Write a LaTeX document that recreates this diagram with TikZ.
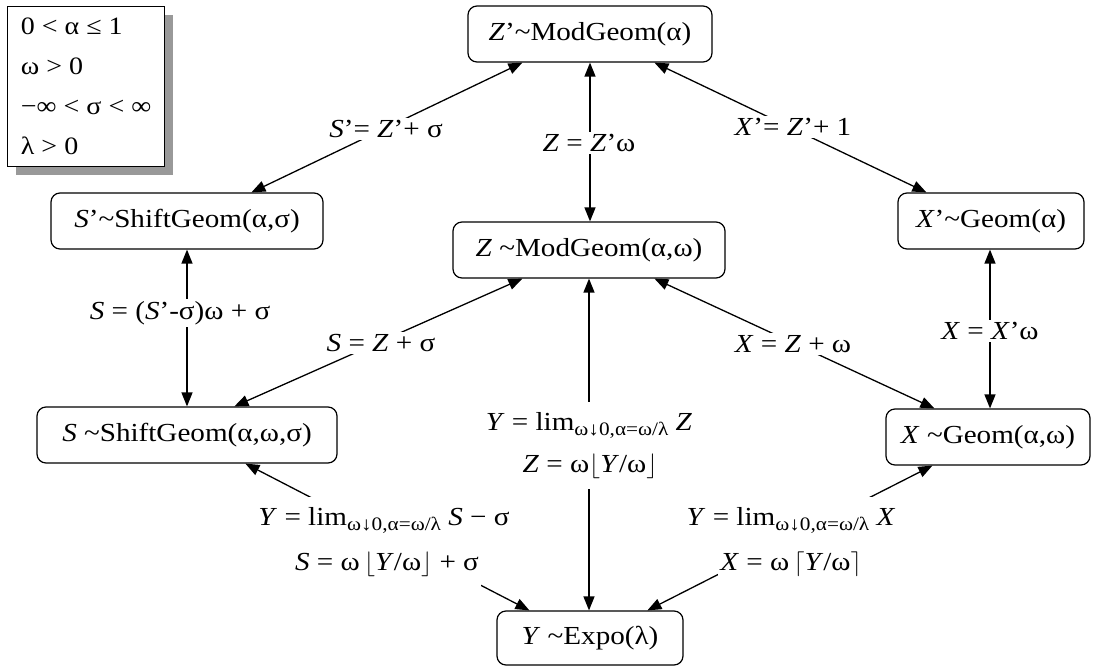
\documentclass[tikz,border=0pt]{standalone}
\usepackage{fontspec}
\setmainfont{Liberation Serif}[FakeStretch=1.12]
\usetikzlibrary{arrows.meta,shadows}
\newcommand\lsub[1]{\raisebox{-0.5ex}{\fontsize{19}{19}\selectfont #1}}
\newcommand\tld{\textasciitilde}
\begin{document}
\begin{tikzpicture}[x=1pt,y=1pt,
  box/.style={draw, line width=1.2pt, rounded corners=9pt, minimum height=56pt, inner sep=0pt, font=\fontsize{26}{30}\selectfont},
  lbl/.style={fill=white, inner sep=2pt, font=\fontsize{26}{30}\selectfont},
  lbltwo/.style={fill=white, inner xsep=2pt, inner ysep=0pt, text height=28pt, text depth=17pt, font=\fontsize{26}{30}\selectfont},
  arr/.style={line width=1.3pt, {Triangle[length=14pt,width=11pt]}-{Triangle[length=14pt,width=11pt]}}]
\useasboundingbox (0,0) rectangle (1096,-667);
% legend
\node[draw, line width=1.2pt, fill=white,
  drop shadow={shadow xshift=8pt, shadow yshift=-8pt, fill=black!40, opacity=1},
  anchor=north west, minimum width=157pt, minimum height=160pt, inner sep=4pt,
  align=left, font=\fontsize{25}{40}\selectfont] (leg) at (7,-6)
  {0 < α ≤ 1\\ ω > 0\\ −∞ < σ < ∞\\ λ > 0};
% boxes
\node[box, minimum width=244pt] (zp) at (590,-34) {\textit{Z}’\tld ModGeom(α)};
\node[box, minimum width=272pt] (sp) at (187,-221) {\textit{S}’\tld ShiftGeom(α,σ)};
\node[box, minimum width=186pt] (xp) at (991,-221) {\textit{X}’\tld Geom(α)};
\node[box, minimum width=272pt] (z) at (589,-250) {\textit{Z} \tld ModGeom(α,ω)};
\node[box, minimum width=300pt] (s) at (187,-435) {\textit{S} \tld ShiftGeom(α,ω,σ)};
\node[box, minimum width=204pt] (x) at (988,-437) {\textit{X} \tld Geom(α,ω)};
\node[box, minimum width=186pt, minimum height=54pt] (y) at (590,-638) {\textit{Y} \tld Expo(λ)};
% connectors
\draw[arr] ([xshift=201pt]sp.north west) -- ([xshift=55pt]zp.south west);
\draw[arr] (zp.south) -- (zp.south |- z.north);
\draw[arr] ([xshift=187pt]zp.south west) -- ([xshift=29pt]xp.north west);
\draw[arr] (sp.south) -- (sp.south |- s.north);
\draw[arr] ([xshift=-1pt]xp.south) -- ([xshift=-1pt]xp.south |- x.north);
\draw[arr] ([xshift=70pt]z.south west) -- ([xshift=198pt]s.north west);
\draw[arr] ([xshift=202pt]z.south west) -- ([xshift=49pt]x.north west);
\draw[arr] (z.south) -- (z.south |- y.north);
\draw[arr] ([xshift=209pt]s.south west) -- ([xshift=33pt]y.north west);
\draw[arr] ([xshift=47pt]x.south west) -- ([xshift=151pt]y.north west);
% labels
\node[lbl] (l1) at (386,-129) {\textit{S}’= \textit{Z}’+ σ};
\node[lbl] (l2) at (589,-143) {\textit{Z} = \textit{Z}’ω};
\node[lbl] (l3) at (793,-127) {\textit{X}’= \textit{Z}’+ 1};
\node[lbl] (l4) at (180,-313) {\textit{S} = (\textit{S}’-σ)ω + σ};
\node[lbl] (l5) at (990,-331) {\textit{X} = \textit{X}’ω};
\node[lbl] (l6) at (381,-343) {\textit{S} = \textit{Z} + σ};
\node[lbl] (l7) at (793,-344) {\textit{X} = \textit{Z} + ω};
\node[lbltwo, anchor=base] (l8a) at (589,-430) {\textit{Y} = lim\lsub{ω↓0,α=ω/λ} \textit{Z}};
\node[lbltwo, anchor=base] (l8b) at (590,-472) {\textit{Z} = ω$\lfloor$\textit{Y}/ω$\rfloor$};
\node[lbltwo, anchor=base] (l9a) at (384,-525) {\textit{Y} = lim\lsub{ω↓0,α=ω/λ} \textit{S} − σ};
\node[lbltwo, anchor=base] (l9b) at (387,-570) {\textit{S} = ω\,$\lfloor$\textit{Y}/ω$\rfloor$ + σ};
\node[lbltwo, anchor=base] (l10a) at (791,-525) {\textit{Y} = lim\lsub{ω↓0,α=ω/λ} \textit{X}};
\node[lbltwo, anchor=base] (l10b) at (791,-570) {\textit{X} = ω\,$\lceil$\textit{Y}/ω$\rceil$};
\end{tikzpicture}
\end{document}
